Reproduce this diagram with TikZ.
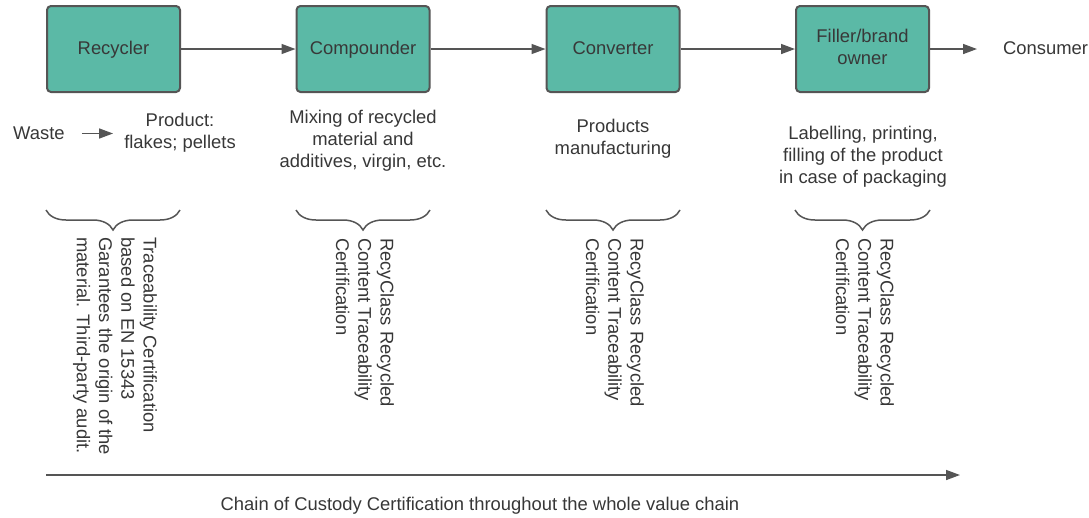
\documentclass[tikz,border=0pt]{standalone}
\usepackage{fontspec}
\setmainfont{Liberation Sans}
\usetikzlibrary{arrows.meta,decorations.pathreplacing}
\definecolor{boxfill}{RGB}{91,185,166}
\definecolor{edgec}{RGB}{85,85,85}
\definecolor{txt}{RGB}{55,55,55}
\begin{document}
\begin{tikzpicture}[x=1pt,y=-1pt,
  font=\fontsize{18.4}{22.2}\selectfont, text=txt,
  stage/.style={draw=edgec, line width=2pt, fill=boxfill, rounded corners=4pt,
    minimum width=133pt, minimum height=86pt, align=center, text=black!78},
  oneline/.style={text height=13pt, text depth=3pt},
  flow/.style={draw=edgec, line width=1.5pt, -{Triangle[length=14pt,width=10pt]}},
  desc/.style={align=center, inner sep=0pt},
  vdesc/.style={rotate=-90, anchor=west, align=left, inner sep=0pt},
  brc/.style={draw=edgec, line width=1.5pt, decorate,
    decoration={brace, amplitude=20pt, mirror}}]
\useasboundingbox (0,0) rectangle (1089,517);

% stages
\node[stage, oneline] (rec)  at (113.5,49) {Recycler};
\node[stage, oneline] (comp) at (363,49)   {Compounder};
\node[stage, oneline] (conv) at (613,49)   {Converter};
\node[stage, text depth=5pt] (fill) at (862.5,49) {Filler/brand\\owner};
\node[desc, anchor=west] (cons) at (1003,48) {Consumer};

\draw[flow] (rec) -- (comp);
\draw[flow] (comp) -- (conv);
\draw[flow] (conv) -- (fill);
\draw[flow, shorten >=26pt] (fill.east) -- (fill.east -| cons.west);

% descriptions
\node[desc, anchor=west] (waste) at (13,133.5) {Waste};
\node[desc] (prod) at (180,133) {Product:\\flakes; pellets};
\draw[flow, shorten <=17pt, shorten >=11pt] (waste.east) -- (waste.east -| prod.west);
\node[desc] (mix) at (363,140.5) {Mixing of recycled\\material and\\additives, virgin, etc.};
\node[desc] (manu) at (613,139) {Products\\manufacturing};
\node[desc] (lab) at (863,157) {Labelling, printing,\\filling of the product\\in case of packaging};

% braces
\coordinate (b1l) at (46,210);  \coordinate (b1r) at (180,210);
\coordinate (b2l) at (296,210); \coordinate (b2r) at (430,210);
\coordinate (b3l) at (546,210); \coordinate (b3r) at (680,210);
\coordinate (b4l) at (795,210); \coordinate (b4r) at (930,210);
\draw[brc] (b1l) -- (b1r);
\draw[brc] (b2l) -- (b2r);
\draw[brc] (b3l) -- (b3r);
\draw[brc] (b4l) -- (b4r);

% certification texts
\node[vdesc] (c1) at (115,237) {Traceability Certification\\based on EN 15343\\Garantees the origin of the\\material. Third-party audit.};
\node[vdesc] (c2) at (365,238) {RecyClass Recycled\\Content Traceability\\Certification};
\node[vdesc] (c3) at (615,238) {RecyClass Recycled\\Content Traceability\\Certification};
\node[vdesc] (c4) at (865,238) {RecyClass Recycled\\Content Traceability\\Certification};

% chain of custody
\coordinate (cs) at (46,475);
\coordinate (ce) at (960,475);
\draw[flow] (cs) -- (ce);
\node[desc] (coc) at (480,506) {Chain of Custody Certification throughout the whole value chain};
\end{tikzpicture}
\end{document}
